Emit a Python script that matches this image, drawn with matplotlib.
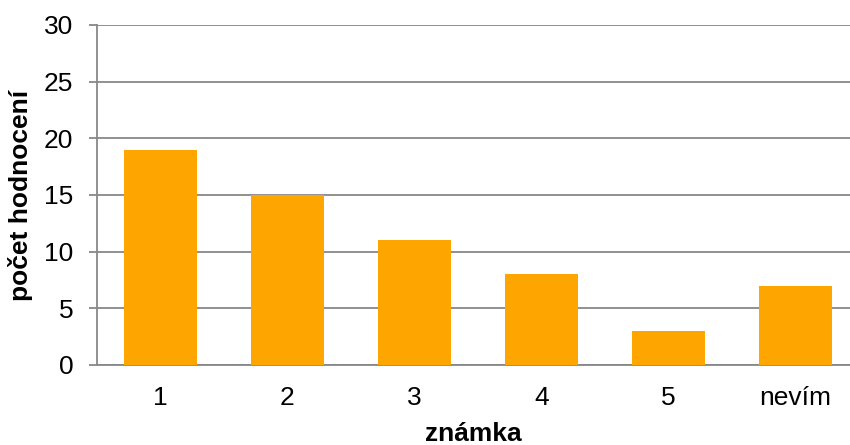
import matplotlib
matplotlib.use("Agg")
import matplotlib.pyplot as plt

categories = ["1", "2", "3", "4", "5", "nevím"]
values = [19, 15, 11, 8, 3, 7]

plt.rcParams['font.family'] = ['Liberation Sans', 'DejaVu Sans']

fig = plt.figure(figsize=(8.5, 4.45), dpi=100)
ax = fig.add_axes([97/850, 80/445, 1 - 97/850, 340/445])

x = range(len(categories))
ax.bar(x, values, width=0.57, color='#FFA500', zorder=3)

ax.set_ylim(0, 30)
ax.set_yticks(range(0, 31, 5))
ax.set_xlim(-0.5, 5.43)
ax.set_xticks(list(x))
ax.set_xticklabels(categories)

ax.yaxis.grid(True, color='#888888', linewidth=1.3, zorder=0)
for s in ['top', 'right']:
    ax.spines[s].set_visible(False)
for s in ['left', 'bottom']:
    ax.spines[s].set_color('#888888')
    ax.spines[s].set_linewidth(1.3)
ax.tick_params(axis='y', length=6, width=1.3, color='#888888', labelsize=19, pad=11)
ax.tick_params(axis='x', length=0, labelsize=19, pad=15)

ax.set_xlabel('známka', fontsize=19, fontweight='bold', labelpad=9)
ax.set_ylabel('počet hodnocení', fontsize=19, fontweight='bold', labelpad=8)

fig.savefig('out.png', dpi=100)
